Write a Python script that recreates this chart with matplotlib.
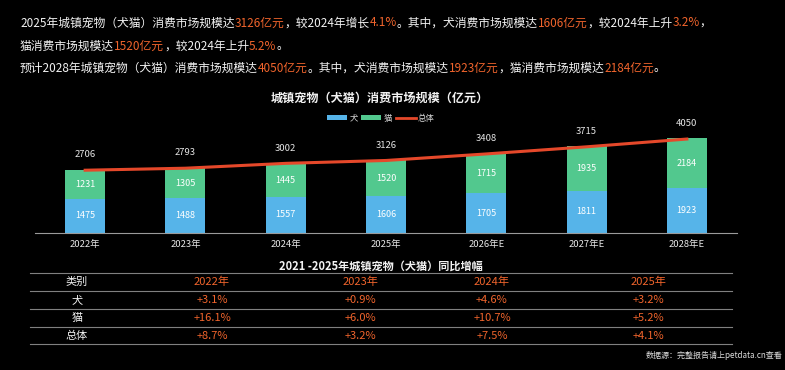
import matplotlib
matplotlib.use("Agg")
import matplotlib.pyplot as plt
from matplotlib.patches import Patch
from matplotlib.lines import Line2D
import numpy as np

plt.rcParams['font.family'] = ['Noto Sans CJK SC', 'DejaVu Sans']

# data
years = ['2022年', '2023年', '2024年', '2025年', '2026年E', '2027年E', '2028年E']
dog = [1475, 1488, 1557, 1606, 1705, 1811, 1923]
cat = [1231, 1305, 1445, 1520, 1715, 1935, 2184]
total = [2706, 2793, 3002, 3126, 3408, 3715, 4050]

table_cols = ['类别', '2022年', '2023年', '2024年', '2025年']
table_rows = ['犬', '猫', '总体']
growth_dog = ['+3.1%', '+0.9%', '+4.6%', '+3.2%']
growth_cat = ['+16.1%', '+6.0%', '+10.7%', '+5.2%']
growth_all = ['+8.7%', '+3.2%', '+7.5%', '+4.1%']

WHITE = '#f2f2f2'
ORANGE = '#f0642c'
BLUE = '#56b4e9'
GREEN = '#52c88e'
RED = '#e5482a'

W, H = 785, 370
fig = plt.figure(figsize=(W / 100, H / 100), dpi=100, facecolor='black')


def fx(px):
    return px / W


def fy(py):
    return 1 - py / H


# header lines with highlighted numbers
header = [
    [("2025年城镇宠物（犬猫）消费市场规模达", WHITE), ("3126亿元", ORANGE), ("，较2024年增长", WHITE),
     ("4.1%", ORANGE), ("。其中，犬消费市场规模达", WHITE), ("1606亿元", ORANGE),
     ("，较2024年上升", WHITE), ("3.2%", ORANGE), ("，", WHITE)],
    [("猫消费市场规模达", WHITE), ("1520亿元", ORANGE), ("，较2024年上升", WHITE), ("5.2%", ORANGE), ("。", WHITE)],
    [("预计2028年城镇宠物（犬猫）消费市场规模达", WHITE), ("4050亿元", ORANGE), ("。其中，犬消费市场规模达", WHITE),
     ("1923亿元", ORANGE), ("，猫消费市场规模达", WHITE), ("2184亿元", ORANGE), ("。", WHITE)],
]
renderer = fig.canvas.get_renderer()
for line, ypx in zip(header, [23, 46, 68]):
    xpx = 20
    for s, c in line:
        t = fig.text(fx(xpx), fy(ypx), s, color=c, fontsize=8.5, ha='left', va='center')
        xpx += t.get_window_extent(renderer).width

# chart
top_px = 131
ax = fig.add_axes([fx(35), fy(233), fx(737) - fx(35), (233 - top_px) / H])
ax.set_facecolor('black')
x = np.arange(len(years))
ax.bar(x, dog, width=0.4, color=BLUE, zorder=2)
ax.bar(x, cat, width=0.4, bottom=dog, color=GREEN, zorder=2)
ax.plot(x, total, color=RED, lw=2.2, zorder=3)
for i in range(len(years)):
    ax.text(x[i], dog[i] / 2, str(dog[i]), color='white', fontsize=6.5, ha='center', va='center', zorder=4)
    ax.text(x[i], dog[i] + cat[i] / 2, str(cat[i]), color='white', fontsize=6.5, ha='center', va='center', zorder=4)
    ax.annotate(str(total[i]), (x[i], total[i]), xytext=(0, 11), textcoords='offset points',
                color='#e6e6e6', fontsize=6.8, ha='center', va='center')
ax.set_xlim(-0.5, len(years) - 0.5)
ax.set_ylim(0, (233 - top_px) / 0.0232)
ax.set_xticks(x)
ax.set_xticklabels(years, color='#e6e6e6', fontsize=6.8)
ax.tick_params(axis='x', length=0, pad=5)
ax.set_yticks([])
for s in ['top', 'right', 'left']:
    ax.spines[s].set_visible(False)
ax.spines['bottom'].set_color('#9a9a9a')
ax.spines['bottom'].set_linewidth(0.8)

fig.text(fx(380), fy(98), '城镇宠物（犬猫）消费市场规模（亿元）', color=WHITE, fontsize=8.7,
         fontweight='bold', ha='center', va='center')

handles = [Patch(facecolor=BLUE, label='犬'), Patch(facecolor=GREEN, label='猫'),
           Line2D([0], [0], color=RED, lw=2, label='总体')]
fig.legend(handles=handles, loc='center', bbox_to_anchor=(fx(381), fy(118)), ncol=3, frameon=False,
           fontsize=6, labelcolor='#d8d8d8', handlelength=2.4, handleheight=0.5,
           handletextpad=0.3, columnspacing=0.4, borderpad=0)

# table
fig.text(fx(381), fy(266), '2021 -2025年城镇宠物（犬猫）同比增幅', color=WHITE, fontsize=8,
         fontweight='bold', ha='center', va='center')
tab = fig.add_axes([0, 0, 1, 1])
tab.set_xlim(0, W)
tab.set_ylim(H, 0)
tab.axis('off')
tab.patch.set_alpha(0)
for yl in [273, 291, 309, 327, 344]:
    tab.plot([30, 732], [yl, yl], color='#808080', lw=0.8)
col_x = [77, 212, 360, 492, 648]
row_y = [282, 300, 318, 336]
for j, c in enumerate(table_cols):
    tab.text(col_x[j], row_y[0], c, color=WHITE if j == 0 else ORANGE, fontsize=8, ha='center', va='center')
for i, (name, vals) in enumerate(zip(table_rows, [growth_dog, growth_cat, growth_all])):
    tab.text(col_x[0], row_y[i + 1], name, color=WHITE, fontsize=8, ha='center', va='center')
    for j, v in enumerate(vals):
        tab.text(col_x[j + 1], row_y[i + 1], v, color=ORANGE, fontsize=8, ha='center', va='center')

fig.text(fx(782), fy(355), '数据源：完整报告请上petdata.cn查看', color='#dddddd', fontsize=5.8,
         ha='right', va='center')

fig.savefig('out.png', dpi=100, facecolor='black')
